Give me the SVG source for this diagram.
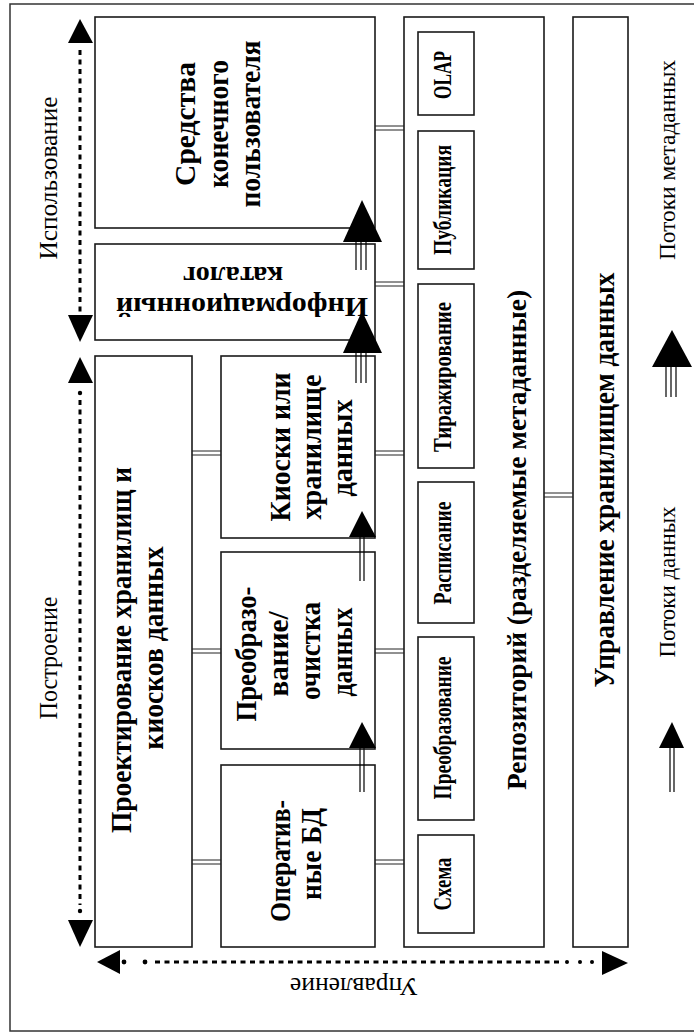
<svg xmlns="http://www.w3.org/2000/svg" width="694" height="1035" viewBox="0 0 694 1035">
<style>
.box{fill:#fff;stroke:#1a1a1a;stroke-width:1.6}
.b{font-family:"Liberation Serif","Times New Roman",serif;font-weight:bold;fill:#000;text-anchor:middle}
.r{font-family:"Liberation Serif","Times New Roman",serif;font-weight:normal;fill:#000;text-anchor:middle}
.c line{stroke:#222;stroke-width:1}
.dash{stroke:#000;stroke-width:3;stroke-dasharray:5 4.5;fill:none}
.dot{fill:#000}
.head{fill:#000}
.shaft{stroke:#000;stroke-width:1.2}
</style>
<rect width="694" height="1035" fill="#fff"/>
<rect x="10" y="4" width="700" height="1027" fill="none" stroke="#333" stroke-width="1.5"/>

<g id="enduser">
<rect class="box" x="95" y="17" width="280" height="211"/>
<text class="b" font-size="29" transform="translate(195,124) rotate(-90)" textLength="124" lengthAdjust="spacingAndGlyphs">Средства</text>
<text class="b" font-size="29" transform="translate(228,124) rotate(-90)" textLength="128" lengthAdjust="spacingAndGlyphs">конечного</text>
<text class="b" font-size="29" transform="translate(260,124) rotate(-90)" textLength="167" lengthAdjust="spacingAndGlyphs">пользователя</text>
</g>

<g id="infocatalog">
<rect class="box" x="95" y="244" width="280" height="96"/>
<text class="b" font-size="28" transform="translate(242,298) rotate(180)" textLength="252" lengthAdjust="spacingAndGlyphs">Информационный</text>
<text class="b" font-size="28" transform="translate(233,267) rotate(180)" textLength="100" lengthAdjust="spacingAndGlyphs">каталог</text>
</g>

<g id="design">
<rect class="box" x="95" y="356" width="97" height="591"/>
<text class="b" font-size="29" transform="translate(131,650) rotate(-90)" textLength="366" lengthAdjust="spacingAndGlyphs">Проектирование хранилищ и</text>
<text class="b" font-size="29" transform="translate(163,648) rotate(-90)" textLength="203" lengthAdjust="spacingAndGlyphs">киосков данных</text>
</g>

<g id="kiosks">
<rect class="box" x="221" y="356" width="154" height="182"/>
<text class="b" font-size="29" transform="translate(290,447) rotate(-90)" textLength="149" lengthAdjust="spacingAndGlyphs">Киоски или</text>
<text class="b" font-size="29" transform="translate(321,447) rotate(-90)" textLength="145" lengthAdjust="spacingAndGlyphs">хранилище</text>
<text class="b" font-size="29" transform="translate(352,448) rotate(-90)" textLength="97" lengthAdjust="spacingAndGlyphs">данных</text>
</g>

<g id="transform">
<rect class="box" x="221" y="552" width="154" height="197"/>
<text class="b" font-size="29" transform="translate(256,654) rotate(-90)" textLength="135" lengthAdjust="spacingAndGlyphs">Преобразо-</text>
<text class="b" font-size="29" transform="translate(288,654) rotate(-90)" textLength="85" lengthAdjust="spacingAndGlyphs">вание/</text>
<text class="b" font-size="29" transform="translate(320,651) rotate(-90)" textLength="98" lengthAdjust="spacingAndGlyphs">очистка</text>
<text class="b" font-size="29" transform="translate(352,652) rotate(-90)" textLength="89" lengthAdjust="spacingAndGlyphs">данных</text>
</g>

<g id="operdb">
<rect class="box" x="221" y="765" width="154" height="182"/>
<text class="b" font-size="29" transform="translate(290,861) rotate(-90)" textLength="122" lengthAdjust="spacingAndGlyphs">Оператив-</text>
<text class="b" font-size="29" transform="translate(321,854) rotate(-90)" textLength="92" lengthAdjust="spacingAndGlyphs">ные БД</text>
</g>

<g id="repository">
<rect class="box" x="404" y="17" width="140" height="930"/>
<text class="b" font-size="28" transform="translate(526,540) rotate(-90)" textLength="500" lengthAdjust="spacingAndGlyphs">Репозиторий (разделяемые метаданные)</text>
</g>
<g id="olap">
<rect class="box" x="418" y="32" width="56" height="83"/>
<text class="b" font-size="26" transform="translate(451,75) rotate(-90)" textLength="48" lengthAdjust="spacingAndGlyphs">OLAP</text>
</g>
<g id="publication">
<rect class="box" x="418" y="131" width="56" height="138"/>
<text class="b" font-size="26" transform="translate(451,200) rotate(-90)" textLength="110" lengthAdjust="spacingAndGlyphs">Публикация</text>
</g>
<g id="replication">
<rect class="box" x="418" y="284" width="56" height="184"/>
<text class="b" font-size="26" transform="translate(451,377) rotate(-90)" textLength="150" lengthAdjust="spacingAndGlyphs">Тиражирование</text>
</g>
<g id="schedule">
<rect class="box" x="418" y="482" width="56" height="141"/>
<text class="b" font-size="26" transform="translate(451,553) rotate(-90)" textLength="103" lengthAdjust="spacingAndGlyphs">Расписание</text>
</g>
<g id="conversion">
<rect class="box" x="418" y="637" width="56" height="183"/>
<text class="b" font-size="26" transform="translate(451,728) rotate(-90)" textLength="143" lengthAdjust="spacingAndGlyphs">Преобразование</text>
</g>
<g id="schema">
<rect class="box" x="418" y="835" width="56" height="98"/>
<text class="b" font-size="26" transform="translate(451,884) rotate(-90)" textLength="53" lengthAdjust="spacingAndGlyphs">Схема</text>
</g>

<g id="management">
<rect class="box" x="573" y="17" width="55" height="930"/>
<text class="b" font-size="30" transform="translate(614,480) rotate(-90)" textLength="415" lengthAdjust="spacingAndGlyphs">Управление хранилищем данных</text>
</g>

<g id="connectors" class="c">
<line x1="192" y1="451" x2="221" y2="451"/><line x1="192" y1="455" x2="221" y2="455"/>
<line x1="192" y1="649" x2="221" y2="649"/><line x1="192" y1="653" x2="221" y2="653"/>
<line x1="192" y1="860" x2="221" y2="860"/><line x1="192" y1="864" x2="221" y2="864"/>
<line x1="375" y1="126" x2="404" y2="126"/><line x1="375" y1="130" x2="404" y2="130"/>
<line x1="375" y1="282" x2="404" y2="282"/><line x1="375" y1="286" x2="404" y2="286"/>
<line x1="375" y1="451" x2="404" y2="451"/><line x1="375" y1="455" x2="404" y2="455"/>
<line x1="375" y1="649" x2="404" y2="649"/><line x1="375" y1="653" x2="404" y2="653"/>
<line x1="375" y1="860" x2="404" y2="860"/><line x1="375" y1="864" x2="404" y2="864"/>
<line x1="544" y1="493" x2="573" y2="493"/><line x1="544" y1="497" x2="573" y2="497"/>
</g>

<g id="flows">
<line class="shaft" x1="360" y1="746" x2="360" y2="792"/><line class="shaft" x1="364" y1="746" x2="364" y2="792"/>
<polygon class="head" points="362,722 376,748 349,748"/>
<line class="shaft" x1="360" y1="534" x2="360" y2="581"/><line class="shaft" x1="364" y1="534" x2="364" y2="581"/>
<polygon class="head" points="362,511 376,537 349,537"/>
<line class="shaft" x1="356" y1="350" x2="356" y2="383"/><line class="shaft" x1="361" y1="350" x2="361" y2="383"/><line class="shaft" x1="366" y1="350" x2="366" y2="383"/>
<polygon class="head" points="362,311 382,353 343,353"/>
<line class="shaft" x1="356" y1="240" x2="356" y2="270"/><line class="shaft" x1="361" y1="240" x2="361" y2="270"/><line class="shaft" x1="366" y1="240" x2="366" y2="270"/>
<polygon class="head" points="362,200 382,242 343,242"/>
</g>

<g id="axes">
<line class="dash" x1="80" y1="50" x2="80" y2="312"/>
<polygon class="head" points="80,19 93,43 68,43"/>
<polygon class="head" points="80,342 93,315 68,315"/>
<line class="dash" x1="80" y1="400" x2="80" y2="905"/>
<circle class="dot" cx="80" cy="393" r="2.2"/><circle class="dot" cx="80" cy="911" r="2.2"/>
<polygon class="head" points="80,357 93,383 68,383"/>
<polygon class="head" points="80,947 93,920 68,920"/>
<line class="dash" x1="155" y1="962" x2="560" y2="962"/>
<circle class="dot" cx="124" cy="962" r="2.4"/><circle class="dot" cx="145" cy="962" r="2.4"/>
<circle class="dot" cx="567" cy="962" r="2"/><circle class="dot" cx="580" cy="962" r="2"/><circle class="dot" cx="592" cy="962" r="2"/>
<polygon class="head" points="97,962 120,950 120,974"/>
<polygon class="head" points="628,963 602,951 602,975"/>
<text class="r" font-size="25" transform="translate(57,178) rotate(-90)" textLength="163" lengthAdjust="spacingAndGlyphs">Использование</text>
<text class="r" font-size="25" transform="translate(57,658) rotate(-90)" textLength="123" lengthAdjust="spacingAndGlyphs">Построение</text>
<text class="r" font-size="25" transform="translate(354,978) rotate(180)" textLength="128" lengthAdjust="spacingAndGlyphs">Управление</text>
</g>

<g id="legend">
<polygon class="head" points="672,330 692,367 652,367"/>
<line class="shaft" x1="666" y1="365" x2="666" y2="397"/><line class="shaft" x1="671" y1="365" x2="671" y2="397"/><line class="shaft" x1="676" y1="365" x2="676" y2="397"/>
<text class="r" font-size="24" transform="translate(675,160) rotate(-90)" textLength="200" lengthAdjust="spacingAndGlyphs">Потоки метаданных</text>
<polygon class="head" points="672,722 684,748 659,748"/>
<line class="shaft" x1="670" y1="746" x2="670" y2="792"/><line class="shaft" x1="674" y1="746" x2="674" y2="792"/>
<text class="r" font-size="24" transform="translate(675,582) rotate(-90)" textLength="151" lengthAdjust="spacingAndGlyphs">Потоки данных</text>
</g>
</svg>
